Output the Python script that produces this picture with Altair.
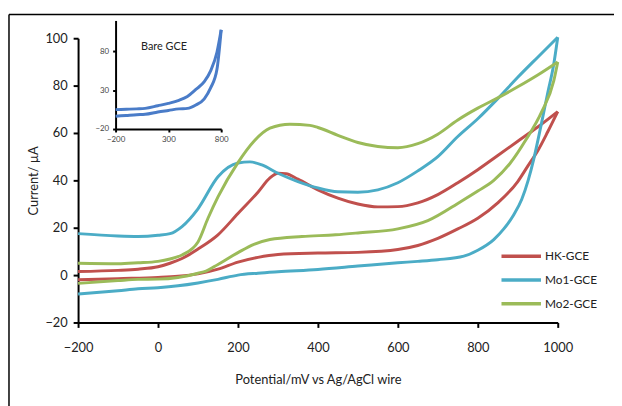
import altair as alt
import pandas as pd

series_names = ["HK-GCE", "Mo1-GCE", "Mo2-GCE"]
series_colors = ["#C0504D", "#4BACC6", "#9BBB59"]

# HK-GCE
hk_up_E = [-200, -100, -50, 0, 30, 60, 100, 150, 200, 250, 280, 300, 320, 350, 400, 450, 500, 550, 600, 650, 700, 750, 800, 850, 900, 950, 1000]
hk_up_I = [1.5, 2, 2.5, 3.5, 5, 7, 11, 17, 26, 35, 41, 43, 42.8, 40.5, 36, 32.5, 30, 28.8, 28.9, 30.5, 34, 39, 44.5, 50.5, 56.5, 62.5, 69]
hk_lo_E = [-200, -100, 0, 50, 100, 150, 200, 250, 300, 400, 500, 600, 650, 700, 750, 800, 850, 900, 925, 950, 975, 1000]
hk_lo_I = [-2, -1.5, -1, -0.5, 0.5, 2.5, 5.5, 7.5, 8.7, 9.3, 9.6, 10.8, 12.5, 15.5, 19.5, 24, 30.5, 39.5, 46, 52.5, 60.5, 69]

# Mo1-GCE
mo1_up_E = [-200, -100, -50, 0, 30, 60, 100, 150, 200, 230, 260, 300, 350, 400, 450, 500, 550, 600, 650, 700, 750, 800, 850, 900, 950, 1000]
mo1_up_I = [17.5, 16.5, 16.3, 16.8, 17.5, 20.5, 28, 41.5, 47.3, 47.8, 46.5, 43, 39.5, 36.8, 35.2, 35, 36, 39, 44, 50, 58.5, 66, 74.5, 83.5, 92, 100.4]
mo1_lo_E = [-200, -100, -50, 0, 50, 100, 150, 200, 250, 300, 400, 500, 600, 650, 700, 765, 800, 840, 865, 890, 910, 926, 940, 958, 975, 990, 1000]
mo1_lo_I = [-8, -6.6, -5.8, -5.3, -4.5, -3.3, -1.8, 0, 0.8, 1.4, 2.4, 3.8, 5.2, 5.8, 6.5, 8, 10.5, 15, 19.5, 25.5, 32, 40, 49, 63, 77, 89, 100.4]

# Mo2-GCE
mo2_up_E = [-200, -100, -50, 0, 30, 60, 100, 125, 150, 200, 240, 280, 330, 380, 400, 450, 500, 550, 600, 650, 700, 750, 800, 850, 900, 950, 1000]
mo2_up_I = [5, 4.8, 5.2, 5.8, 6.8, 8.5, 14, 24, 33, 47.5, 56.5, 62, 63.7, 63.2, 62.3, 59, 56, 54.3, 53.8, 55.5, 59.5, 65.5, 70.5, 74.8, 79.5, 84.5, 90]
mo2_lo_E = [-200, -100, -50, 0, 50, 100, 120, 150, 200, 240, 280, 360, 444, 500, 600, 675, 757, 800, 840, 880, 920, 960, 990, 1000]
mo2_lo_I = [-3.5, -2.3, -1.8, -1.7, -1, 0.8, 1.7, 4.5, 9.5, 13, 15, 16.3, 17, 17.8, 19.5, 23, 31, 35.5, 40, 47, 57, 69, 82, 90]

# Inset: Bare GCE
bare_up_E = [-200, -100, 0, 80, 200, 300, 400, 480, 560, 640, 700, 760, 800]
bare_up_I = [5, 5.5, 6, 6.6, 10, 13, 17, 22, 31, 41, 55, 79, 108]
bare_lo_E = [-200, -100, 0, 80, 200, 300, 400, 480, 560, 640, 700, 760, 800]
bare_lo_I = [-3.5, -2.5, -1.5, -1, 2, 4, 6, 6.6, 11, 19, 33, 57, 108]

x_ticks = [-200, 0, 200, 400, 600, 800, 1000]
y_ticks = [-20, 0, 20, 40, 60, 80, 100]
inset_x_ticks = [-200, 300, 800]
inset_y_ticks = [-20, 30, 80]

rows = []
for name, branches in [
    ("HK-GCE", [("up", hk_up_E, hk_up_I), ("lo", hk_lo_E, hk_lo_I)]),
    ("Mo1-GCE", [("up", mo1_up_E, mo1_up_I), ("lo", mo1_lo_E, mo1_lo_I)]),
    ("Mo2-GCE", [("up", mo2_up_E, mo2_up_I), ("lo", mo2_lo_E, mo2_lo_I)]),
]:
    for b, es, is_ in branches:
        for e, i in zip(es, is_):
            rows.append({"series": name, "path": name + "_" + b, "E": e, "I": i})
df = pd.DataFrame(rows)

inset_rows = []
for b, es, is_ in [("up", bare_up_E, bare_up_I), ("lo", bare_lo_E, bare_lo_I)]:
    for e, i in zip(es, is_):
        inset_rows.append({"path": b, "E": e, "I": i})
df_inset = pd.DataFrame(inset_rows)

FONT = "Lato"

main = alt.Chart(df).mark_line(strokeWidth=3, interpolate="monotone").encode(
    x=alt.X("E:Q", scale=alt.Scale(domain=[-200, 1000], nice=False),
            axis=alt.Axis(values=x_ticks, format="d", title="Potential/mV vs Ag/AgCl wire", orient="bottom",
                          labelFontSize=13, titleFontSize=13, labelPadding=14, titlePadding=20,
                          labelFlush=False, labelOverlap=False,
                          tickSize=5, tickWidth=2, domainWidth=2, domainColor="black", tickColor="black",
                          labelColor="#222", titleColor="#222", labelFont=FONT, titleFont=FONT,
                          titleFontWeight="normal", grid=False)),
    y=alt.Y("I:Q", scale=alt.Scale(domain=[-20, 100], nice=False),
            axis=alt.Axis(values=y_ticks, format="d", title="Current/ µA", orient="left",
                          labelFontSize=13, titleFontSize=13, labelPadding=6, titlePadding=4,
                          labelFlush=False, labelOverlap=False,
                          tickSize=5, tickWidth=2, domainWidth=2, domainColor="black", tickColor="black",
                          labelColor="#222", titleColor="#222", labelFont=FONT, titleFont=FONT,
                          titleFontWeight="normal", grid=False)),
    color=alt.Color("series:N", scale=alt.Scale(domain=series_names, range=series_colors),
                    legend=alt.Legend(title=None, orient="none", legendX=427, legendY=209,
                                      symbolType="stroke", symbolSize=1600, symbolStrokeWidth=3.5,
                                      clipHeight=24, rowPadding=0, labelOffset=2, labelFontSize=12,
                                      labelFont=FONT, labelColor="#222")),
    detail="path:N",
)

inset = alt.Chart(df_inset).mark_line(strokeWidth=3, interpolate="monotone", color="#4A7CC8").encode(
    x=alt.X("E:Q", scale=alt.Scale(domain=[-200, 800], range=[38, 145], nice=False),
            axis=alt.Axis(values=inset_x_ticks, format="d", title=None, orient="bottom", offset=-196,
                          labelFontSize=8, labelColor="#444", labelFont=FONT, labelPadding=4,
                          labelFlush=False, labelOverlap=False,
                          tickSize=3, tickWidth=2, domainWidth=2, domainColor="black", tickColor="black",
                          grid=False)),
    y=alt.Y("I:Q", scale=alt.Scale(domain=[-20, 120], range=[92, -18], nice=False),
            axis=alt.Axis(values=inset_y_ticks, format="d", title=None, orient="left", offset=-38,
                          labelFontSize=8, labelColor="#444", labelFont=FONT, labelPadding=4,
                          labelFlush=False, labelOverlap=False,
                          tickSize=3, tickWidth=2, domainWidth=2, domainColor="black", tickColor="black",
                          grid=False)),
    detail="path:N",
)

label = alt.Chart(pd.DataFrame({"t": ["Bare GCE"]})).mark_text(
    font=FONT, fontSize=11, color="#222", align="center", baseline="middle"
).encode(x=alt.value(87), y=alt.value(9), text="t:N")

frame_df = pd.DataFrame({"a": [0]})
frame_left = alt.Chart(frame_df).mark_rule(color="black", strokeWidth=1.5).encode(
    x=alt.value(-70), x2=alt.value(-70), y=alt.value(-24), y2=alt.value(400))
frame_top = alt.Chart(frame_df).mark_rule(color="black", strokeWidth=1.5).encode(
    x=alt.value(-70), x2=alt.value(600), y=alt.value(-24), y2=alt.value(-24))

chart = alt.layer(main, inset, label, frame_left, frame_top).resolve_scale(
    x="independent", y="independent"
).properties(
    width=486, height=288,
    padding={"left": 71, "top": 28, "right": 57, "bottom": 82},
    autosize=alt.AutoSizeParams(type="none"),
    background="white",
).configure_view(stroke=None)

chart.save("out.html", embed_options={"renderer": "svg", "actions": False})
